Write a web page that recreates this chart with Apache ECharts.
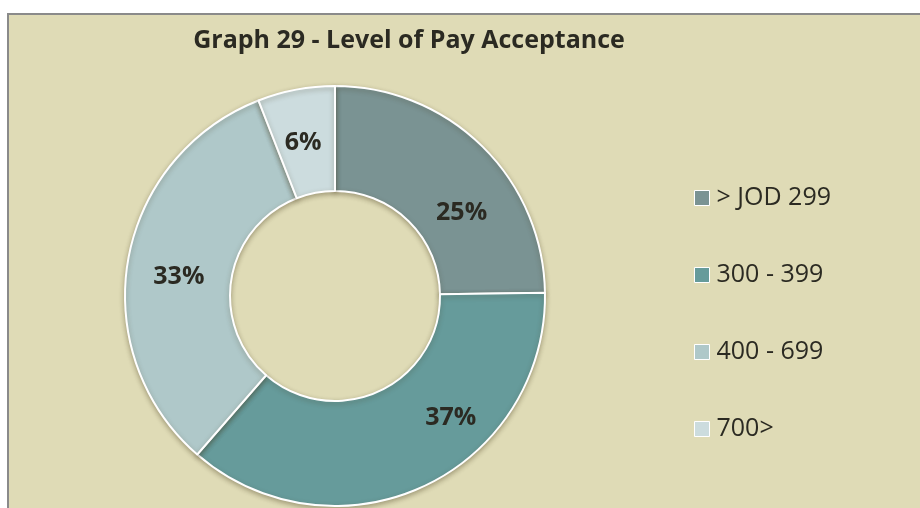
<!DOCTYPE html>
<html>
<head>
<meta charset="utf-8">
<script src="https://cdn.jsdelivr.net/npm/echarts@6/dist/echarts.min.js"></script>
<style>
  html, body { margin: 0; padding: 0; background: #fff; }
  #chart { width: 920px; height: 508px; }
</style>
</head>
<body>
<div id="chart"></div>
<script>
// data
const categories = ["> JOD 299", "300 - 399", "400 - 699", "700>"];
const values = [25, 37, 33, 6];

// styling only
const colors = ["#7a9393", "#669b9b", "#afc8c9", "#ccdcde"];
const labelOffsets = [[14, 31], [48, -24], [2, 8], [-2, 5]];
const textColor = "#2b2a22";

const myChart = echarts.init(document.getElementById("chart"));

const pieData = categories.map((name, i) => {
  return {
    name: name,
    value: values[i],
    itemStyle: { color: colors[i] },
    label: { offset: labelOffsets[i] }
  };
});

myChart.setOption({
  backgroundColor: "#ffffff",
  animation: false,
  graphic: [
    {
      type: "rect",
      z: -10,
      silent: true,
      shape: { x: 8, y: 14, width: 1000, height: 600 },
      style: { fill: "#dfdbb6", stroke: "#8a8a8a", lineWidth: 2 }
    }
  ],
  title: {
    text: "Graph 29 - Level of Pay Acceptance",
    left: 404,
    top: 23,
    textAlign: "center",
    textStyle: {
      fontFamily: "Open Sans",
      fontSize: 25,
      fontWeight: "bold",
      color: textColor
    }
  },
  legend: {
    orient: "vertical",
    left: 689,
    top: 178,
    itemGap: 47,
    itemWidth: 15,
    itemHeight: 15,
    icon: "rect",
    itemStyle: { borderColor: "#ffffff", borderWidth: 1 },
    textStyle: {
      fontFamily: "Open Sans",
      fontSize: 25,
      lineHeight: 30,
      color: textColor,
      padding: [0, 0, 0, 2]
    },
    data: categories
  },
  series: [
    {
      type: "pie",
      center: [335, 296],
      radius: [105, 210],
      startAngle: 90,
      clockwise: true,
      avoidLabelOverlap: false,
      itemStyle: {
        borderColor: "#ffffff",
        borderWidth: 2,
        shadowColor: "rgba(60,50,20,0.35)",
        shadowBlur: 5,
        shadowOffsetY: 2
      },
      label: {
        show: true,
        position: "inside",
        formatter: "{c}%",
        fontFamily: "Open Sans",
        fontSize: 25,
        fontWeight: "bold",
        color: textColor
      },
      labelLine: { show: false },
      emphasis: { disabled: true },
      data: pieData
    }
  ]
});
</script>
</body>
</html>
